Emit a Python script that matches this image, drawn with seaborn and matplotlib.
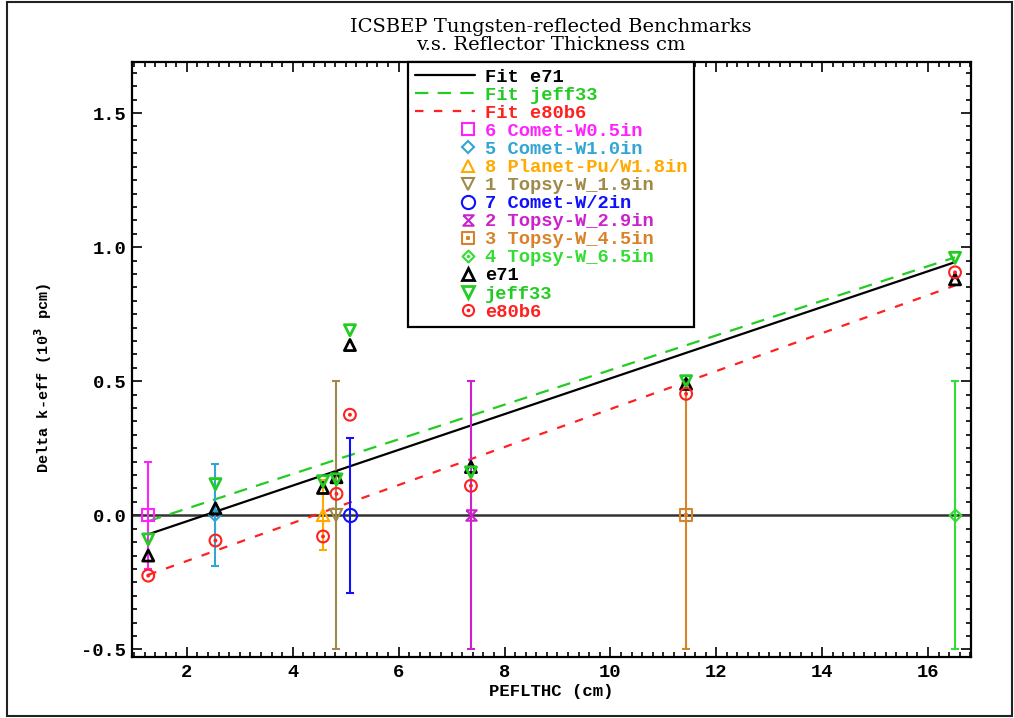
import numpy as np
import matplotlib
matplotlib.use('Agg')
import matplotlib.pyplot as plt
import seaborn as sns
from matplotlib.lines import Line2D
from matplotlib.path import Path
from matplotlib.patches import Rectangle
from matplotlib.legend_handler import HandlerLine2D
from matplotlib.ticker import MultipleLocator, FormatStrFormatter

# benchmark data (reflector thickness in cm, delta k-eff in 10^3 pcm)
bench_labels = ['6 Comet-W0.5in', '5 Comet-W1.0in', '8 Planet-Pu/W1.8in', '1 Topsy-W_1.9in',
                '7 Comet-W/2in', '2 Topsy-W_2.9in', '3 Topsy-W_4.5in', '4 Topsy-W_6.5in']
thickness_cm = [1.27, 2.54, 4.572, 4.826, 5.08, 7.366, 11.43, 16.51]
bench_delta = [0.0, 0.0, 0.0, 0.0, 0.0, 0.0, 0.0, 0.0]
bench_unc = [0.20, 0.19, 0.13, 0.50, 0.29, 0.50, 0.50, 0.50]

# calculated results
e71 = [-0.15, 0.026, 0.102, 0.142, 0.635, 0.18, 0.49, 0.88]
jeff33 = [-0.09, 0.116, 0.127, 0.134, 0.69, 0.16, 0.50, 0.96]
e80b6 = [-0.225, -0.094, -0.079, 0.08, 0.375, 0.11, 0.453, 0.906]

# linear fits (end points)
fit_x = [1.27, 16.51]
fit_e71 = [-0.071, 0.944]
fit_jeff33 = [-0.022, 0.962]
fit_e80b6 = [-0.222, 0.857]

sns.set_theme(style='ticks')
plt.rcParams['font.family'] = ['Liberation Mono', 'DejaVu Sans']
plt.rcParams['font.weight'] = 'bold'
plt.rcParams['axes.unicode_minus'] = False
plt.rcParams['text.color'] = 'black'
plt.rcParams['axes.labelcolor'] = 'black'
plt.rcParams['xtick.color'] = 'black'
plt.rcParams['ytick.color'] = 'black'


def sq_path(r):
    return Path([(-r, -r), (r, -r), (r, r), (-r, r), (-r, -r)], closed=True)


def dia_path(r):
    return Path([(0, -r), (r, 0), (0, r), (-r, 0), (0, -r)], closed=True)


square_dot = Path.make_compound_path(sq_path(1.0), sq_path(0.1))
diamond_dot = Path.make_compound_path(dia_path(1.0), dia_path(0.15))
circle_dot = Path.make_compound_path(Path.unit_circle(), Path.circle((0, 0), 0.15))
hourglass = Path([(-1, 1), (1, 1), (-1, -1), (1, -1), (-1, 1)])

bench_colors = ['#ff22ff', '#33a5d5', '#ffaa00', '#a08a48', '#1010ff', '#cc22cc', '#d8822a', '#33dd33']
bench_markers = ['s', 'D', '^', 'v', 'o', hourglass, square_dot, diamond_dot]
bench_ms = [8, 6.5, 8, 8, 9.5, 7.5, 8, 8.5]

c_e71 = 'black'
c_jeff = '#22cc22'
c_e80 = '#ff2020'

fig = plt.figure(figsize=(10.14, 7.18), dpi=100)
ax = fig.add_axes([0.130, 0.0855, 0.8275, 0.828])

ax.axhline(0, color='#333333', lw=1.8, zorder=1)

sns.lineplot(x=fit_x, y=fit_e71, color=c_e71, lw=1.6, ax=ax, zorder=2)
sns.lineplot(x=fit_x, y=fit_jeff33, color=c_jeff, lw=1.6, linestyle=(0, (6, 4.2)), ax=ax, zorder=2)
sns.lineplot(x=fit_x, y=fit_e80b6, color=c_e80, lw=1.6, linestyle=(0, (3.8, 4.7)), ax=ax, zorder=2)

for i in range(len(thickness_cm)):
    ax.errorbar(thickness_cm[i], bench_delta[i], yerr=bench_unc[i], color=bench_colors[i],
                marker=bench_markers[i], ms=bench_ms[i], mfc='none', mec=bench_colors[i], mew=1.5,
                elinewidth=1.5, capsize=3, capthick=1.2, ls='none', zorder=3)

sns.scatterplot(x=thickness_cm, y=e71, marker='^', s=64, color=c_e71, facecolor='none',
                edgecolor=c_e71, linewidth=2, ax=ax, legend=False, zorder=4)
sns.scatterplot(x=thickness_cm, y=jeff33, marker='v', s=64, color=c_jeff, facecolor='none',
                edgecolor=c_jeff, linewidth=2, ax=ax, legend=False, zorder=4)
sns.scatterplot(x=thickness_cm, y=e80b6, marker=circle_dot, s=72, color=c_e80, facecolor='none',
                edgecolor=c_e80, linewidth=1.5, ax=ax, legend=False, zorder=4)

ax.set_xlim(0.96, 16.81)
ax.set_ylim(-0.527, 1.69)
ax.xaxis.set_major_locator(MultipleLocator(2))
ax.xaxis.set_minor_locator(MultipleLocator(0.2))
ax.yaxis.set_major_locator(MultipleLocator(0.5))
ax.yaxis.set_minor_locator(MultipleLocator(0.05))
ax.yaxis.set_major_formatter(FormatStrFormatter('%.1f'))
ax.tick_params(which='both', direction='in', top=True, right=True, color='black', width=1.2)
ax.tick_params(which='major', length=7.5, labelsize=13.5)
ax.tick_params(which='minor', length=3.8)
ax.tick_params(axis='x', pad=5)
ax.tick_params(axis='y', pad=4)
for s in ax.spines.values():
    s.set_linewidth(1.6)
    s.set_color('black')

ax.set_xlabel('PEFLTHC (cm)', fontsize=12.5, fontweight='bold')
ax.set_ylabel('Delta k-eff (10$^\\mathbf{3}$ pcm)', fontsize=11, fontweight='bold')
ax.xaxis.set_label_coords(0.5, -0.046)
ax.yaxis.set_label_coords(-0.093, 0.469)

fig.text(0.5434, 0.95, 'ICSBEP Tungsten-reflected Benchmarks\nv.s. Reflector Thickness cm',
         ha='center', va='center', fontsize=14, family='DejaVu Serif', fontweight='normal',
         color='black', linespacing=1.05)


class RightMarker(HandlerLine2D):
    # put the single marker near the right end of the handle box
    def get_xdata(self, legend, xdescent, ydescent, width, height, fontsize):
        xm = -xdescent + width * 0.88
        return np.array([xm, xm]), np.array([xm])


handles = [
    Line2D([], [], color=c_e71, lw=1.6),
    Line2D([], [], color=c_jeff, lw=1.6, ls=(0, (6, 4.2))),
    Line2D([], [], color=c_e80, lw=1.6, ls=(0, (3.8, 4.7))),
]
labels = ['Fit e71', 'Fit jeff33', 'Fit e80b6']
text_colors = [c_e71, c_jeff, c_e80]
handler_map = {}
for i in range(len(bench_labels)):
    h = Line2D([], [], ls='none', marker=bench_markers[i], ms=bench_ms[i], mfc='none',
               mec=bench_colors[i], mew=1.5)
    handles.append(h)
    handler_map[h] = RightMarker(numpoints=1)
    labels.append(bench_labels[i])
    text_colors.append(bench_colors[i])
for m, c, lab, mew in [('^', c_e71, 'e71', 2), ('v', c_jeff, 'jeff33', 2), (circle_dot, c_e80, 'e80b6', 1.5)]:
    h = Line2D([], [], ls='none', marker=m, ms=8, mfc='none', mec=c, mew=mew)
    handles.append(h)
    handler_map[h] = RightMarker(numpoints=1)
    labels.append(lab)
    text_colors.append(c)

leg = ax.legend(handles, labels, handler_map=handler_map, loc='upper center',
                bbox_to_anchor=(0.5, 1.0), borderaxespad=0, fancybox=False, framealpha=1,
                edgecolor='black', handlelength=3.2, handletextpad=0.55,
                labelspacing=0.05, borderpad=0.35, prop={'family': 'Liberation Mono', 'weight': 'bold', 'size': 13.5})
leg.get_frame().set_linewidth(1.6)
for t, c in zip(leg.get_texts(), text_colors):
    t.set_color(c)

fig.patches.append(Rectangle((0.007, 0.003), 0.991, 0.994, transform=fig.transFigure,
                             fill=False, edgecolor='#222222', lw=1.5))

fig.savefig('out.png', dpi=100)
